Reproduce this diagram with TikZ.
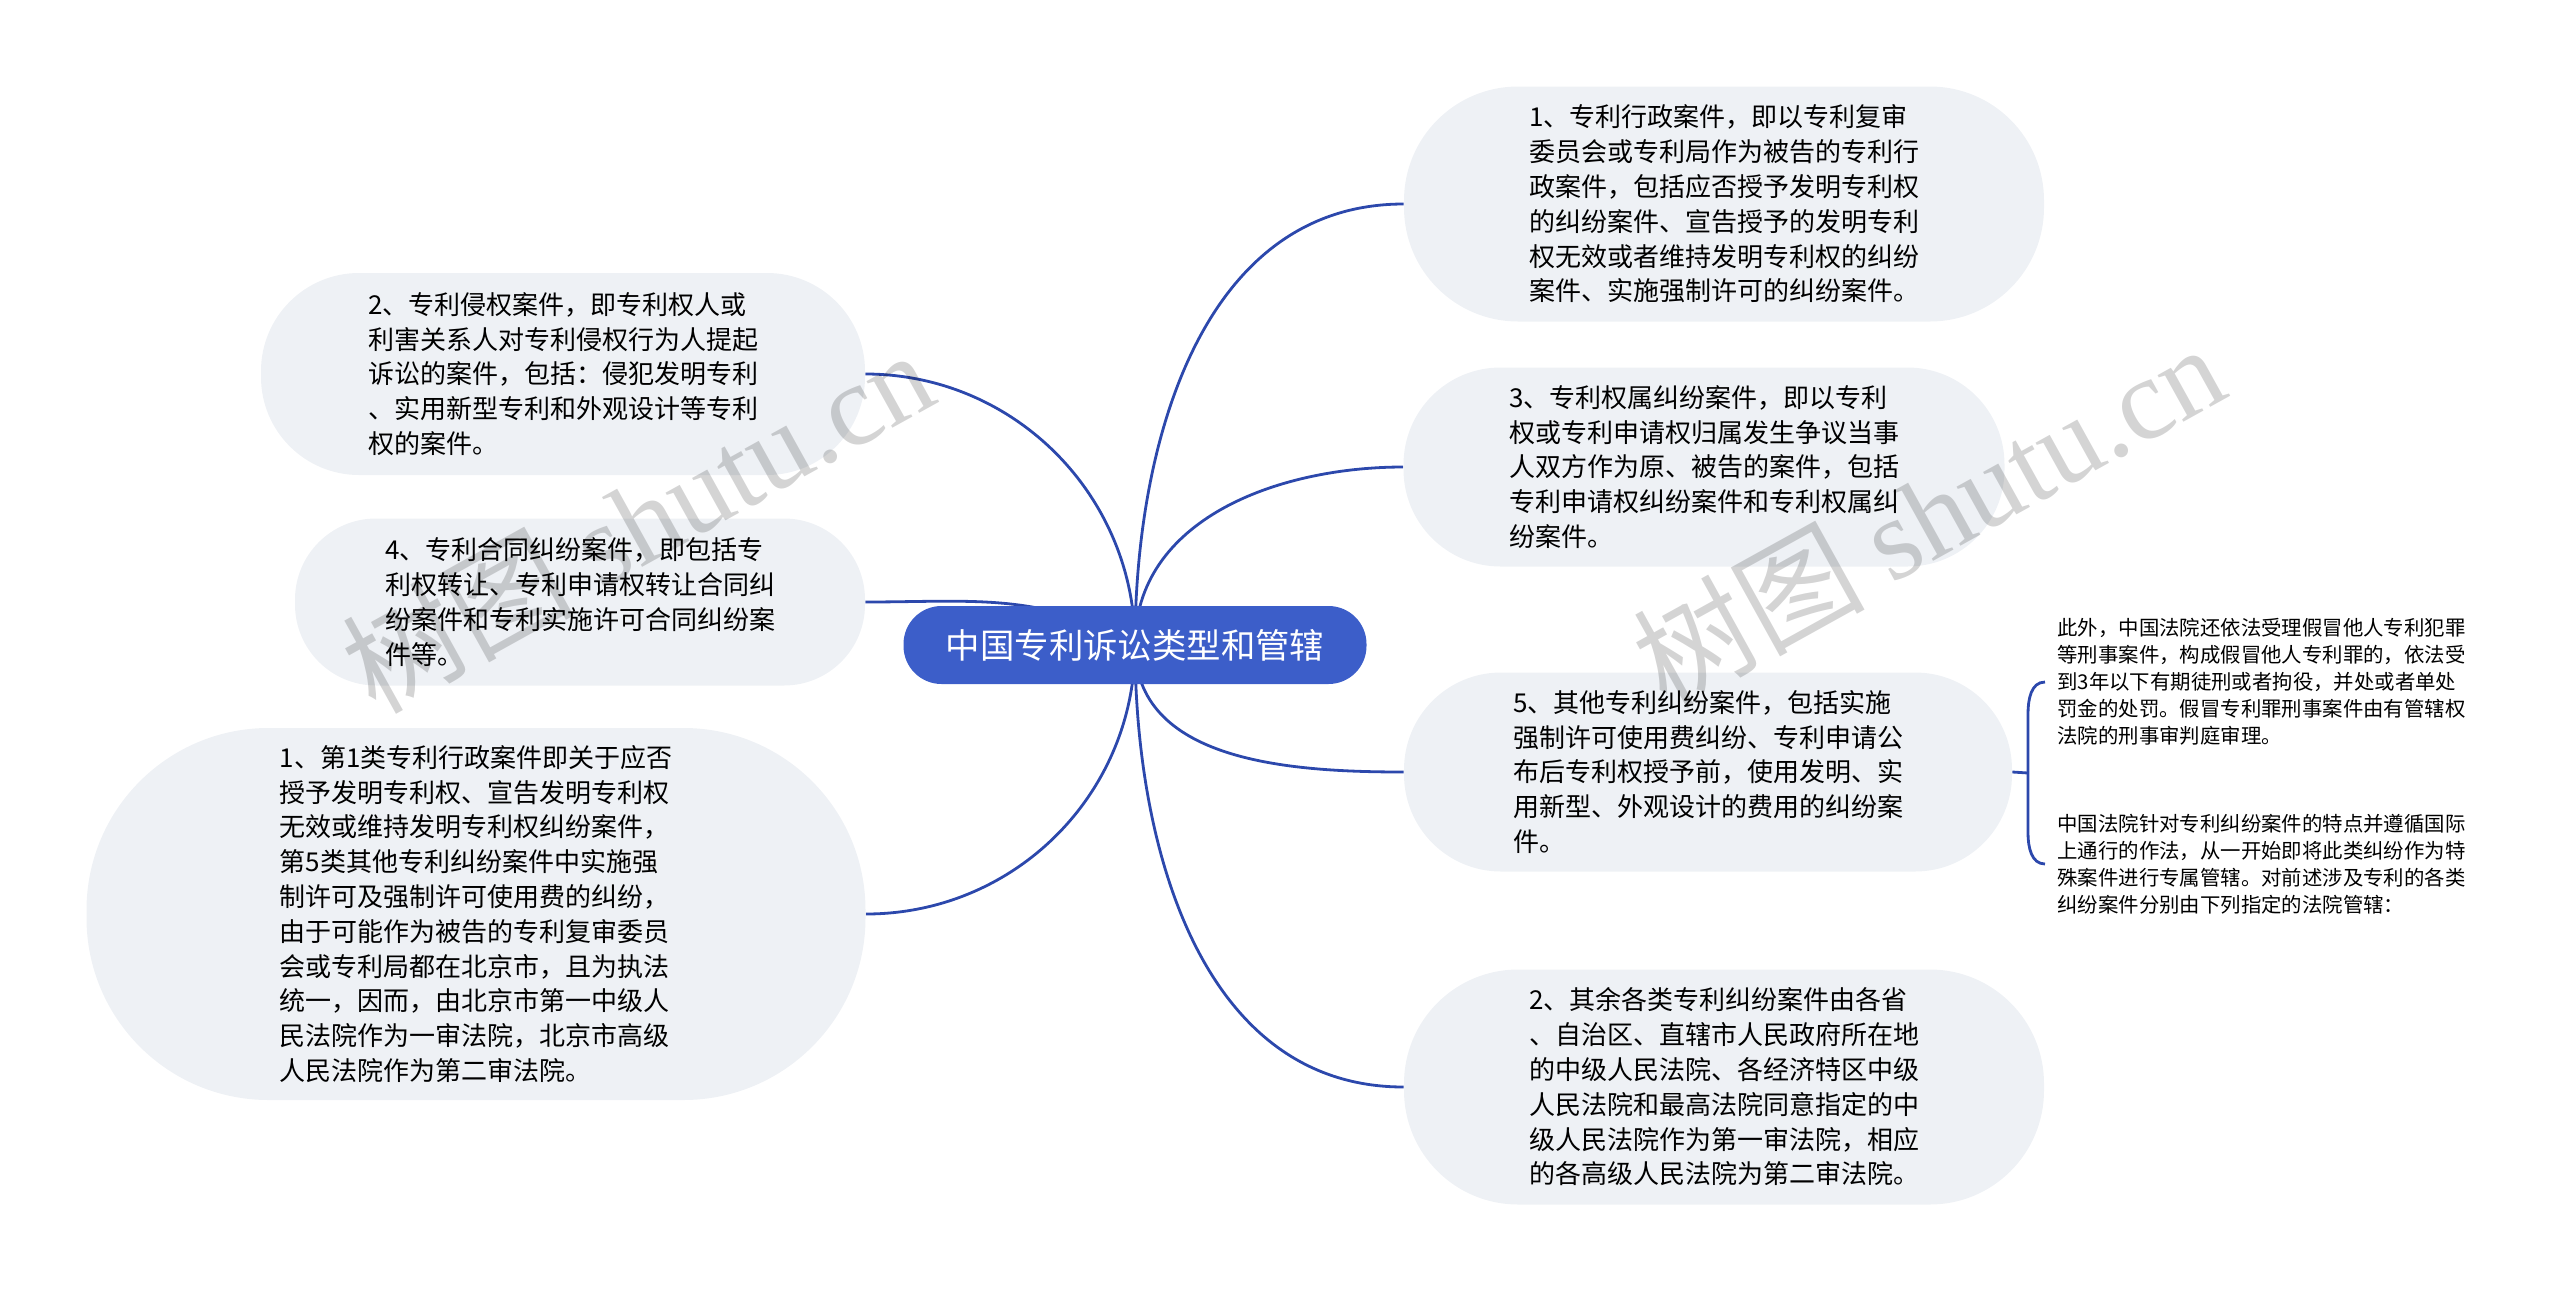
\documentclass[tikz,border=0pt]{standalone}
\usepackage{fontspec}
\setmainfont{Noto Sans CJK SC}
\newfontfamily\wmfont{Liberation Serif}
\usepackage{tikz}
\usetikzlibrary{positioning, backgrounds}
\definecolor{rootblue}{RGB}{60,94,201}
\definecolor{linkblue}{RGB}{44,72,172}
\definecolor{boxgray}{RGB}{238,241,245}

\begin{document}
\begin{tikzpicture}[x=0.5pt,y=-0.5pt,
  topic/.style={fill=rootblue,text=white,rounded corners=19pt,inner sep=0pt,
    minimum width=231.5pt,minimum height=39pt,font=\fontsize{17.2pt}{20pt}\selectfont},
  sub/.style={fill=boxgray,align=left,inner sep=0pt,rounded corners=#1,
    font=\fontsize{13pt}{17.4pt}\selectfont},
  leaf/.style={align=left,inner xsep=6pt,inner ysep=0pt,
    font=\fontsize{10.2pt}{13.5pt}\selectfont},
  link/.style={draw=linkblue,line width=1.4pt},
  wmark/.style={text=black,opacity=0.17,rotate=29,font=\fontsize{58pt}{60pt}\selectfont}]
  \useasboundingbox (0,0) rectangle (2560,1291);
  % centre topic
  \node[topic](root) at (1135,645){中国专利诉讼类型和管辖};
  % right branches
  \node[sub=57pt,minimum width=320pt,minimum height=117.5pt](r1) at (1724,204){%
    1、专利行政案件，即以专利复审\\委员会或专利局作为被告的专利行\\政案件，包括应否授予发明专利权\\的纠纷案件、宣告授予的发明专利\\权无效或者维持发明专利权的纠纷\\案件、实施强制许可的纠纷案件。};
  \node[sub=48.5pt,minimum width=300.5pt,minimum height=99.5pt](r3) at (1704,467){%
    3、专利权属纠纷案件，即以专利\\权或专利申请权归属发生争议当事\\人双方作为原、被告的案件，包括\\专利申请权纠纷案件和专利权属纠\\纷案件。};
  \node[sub=48.5pt,minimum width=304pt,minimum height=99.5pt](r5) at (1708,772){%
    5、其他专利纠纷案件，包括实施\\强制许可使用费纠纷、专利申请公\\布后专利权授予前，使用发明、实\\用新型、外观设计的费用的纠纷案\\件。};
  \node[sub=57pt,minimum width=320pt,minimum height=117.5pt](r2) at (1724,1087){%
    2、其余各类专利纠纷案件由各省\\、自治区、直辖市人民政府所在地\\的中级人民法院、各经济特区中级\\人民法院和最高法院同意指定的中\\级人民法院作为第一审法院，相应\\的各高级人民法院为第二审法院。};
  % left branches
  \node[sub=49pt,minimum width=302pt,minimum height=101pt](l2) at (563,374){%
    2、专利侵权案件，即专利权人或\\利害关系人对专利侵权行为人提起\\诉讼的案件，包括：侵犯发明专利\\、实用新型专利和外观设计等专利\\权的案件。};
  \node[sub=40.5pt,minimum width=285pt,minimum height=83.5pt](l4) at (580,602){%
    4、专利合同纠纷案件，即包括专\\利权转让、专利申请权转让合同纠\\纷案件和专利实施许可合同纠纷案\\件等。};
  \node[sub=91pt,minimum width=389.5pt,minimum height=186pt](l1) at (476,914){%
    1、第1类专利行政案件即关于应否\\授予发明专利权、宣告发明专利权\\无效或维持发明专利权纠纷案件，\\第5类其他专利纠纷案件中实施强\\制许可及强制许可使用费的纠纷，\\由于可能作为被告的专利复审委员\\会或专利局都在北京市，且为执法\\统一，因而，由北京市第一中级人\\民法院作为一审法院，北京市高级\\人民法院作为第二审法院。};
  % details of branch 5
  \node[leaf,anchor=west](leafa) at (2045,682){%
    此外，中国法院还依法受理假冒他人专利犯罪\\等刑事案件，构成假冒他人专利罪的，依法受\\到3年以下有期徒刑或者拘役，并处或者单处\\罚金的处罚。假冒专利罪刑事案件由有管辖权\\法院的刑事审判庭审理。};
  \node[leaf,anchor=west](leafb) at (2045,864){%
    中国法院针对专利纠纷案件的特点并遵循国际\\上通行的作法，从一开始即将此类纠纷作为特\\殊案件进行专属管辖。对前述涉及专利的各类\\纠纷案件分别由下列指定的法院管辖：};
  \coordinate (bk) at (2028,773);
  \coordinate (bt) at (2028,714);
  \coordinate (bb) at (2028,833);
  \begin{scope}[on background layer]
    \draw[link](root.center) to[out=90,in=180] (r1.west);
    \draw[link](root.center) to[out=90,in=180] (r3.west);
    \draw[link](root.center) to[out=-90,in=180] (r5.west);
    \draw[link](root.center) to[out=-90,in=180] (r2.west);
    \draw[link](root.center) to[out=90,in=0] (l2.east);
    \draw[link](root.center) to[out=150,in=0] (l4.east);
    \draw[link](root.center) to[out=-90,in=0] (l1.east);
  \end{scope}
  \draw[link](r5.east) -- (bk);
  \draw[link](leafa.west) to[out=180,in=90] (bt) -- (bb) to[out=-90,in=180] (leafb.west);
  % watermarks
  \node[wmark](wm1) at (637,520){树图 {\wmfont shutu.cn}};
  \node[wmark](wm2) at (1928,514){树图 {\wmfont shutu.cn}};
\end{tikzpicture}
\end{document}
